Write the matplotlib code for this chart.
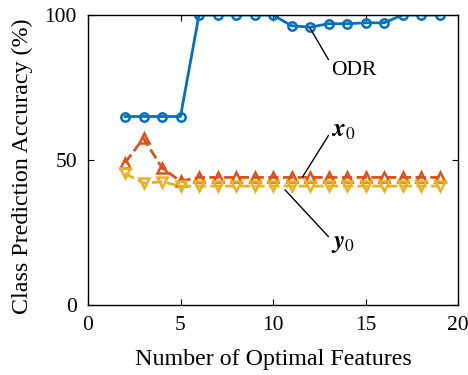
import matplotlib
matplotlib.use("Agg")
import matplotlib.pyplot as plt

# data
n_features = [2, 3, 4, 5, 6, 7, 8, 9, 10, 11, 12, 13, 14, 15, 16, 17, 18, 19]
odr = [65, 65, 65, 65, 100, 100, 100, 100, 100, 96.3, 95.8, 97, 97, 97.3, 97.3, 100, 100, 100]
x0_acc = [49, 57.5, 47.3, 42.7, 44, 44, 44, 44, 44, 44, 44, 44, 44, 44, 44, 44, 44, 44]
y0_acc = [45.4, 42, 42.5, 41, 41, 41, 41, 41, 41, 41, 41, 41, 41, 41, 41, 41, 41, 41]

plt.rcParams['font.family'] = ['Liberation Serif', 'DejaVu Serif']
plt.rcParams['mathtext.fontset'] = 'stix'

fig = plt.figure(figsize=(4.68, 3.75), dpi=100)
ax = fig.add_axes([88 / 468, 1 - 305 / 375, 370 / 468, 290 / 375])

ax.plot(n_features, odr, '-o', color='#0072BD', lw=2, ms=6, mew=1.8, mfc='none')
ax.plot(n_features, x0_acc, '--^', color='#D95319', lw=2, ms=7.5, mew=1.8, mfc='none')
ax.plot(n_features, y0_acc, '--v', color='#EDB120', lw=2, ms=7.5, mew=1.8, mfc='none')

ax.set_xlim(0, 20)
ax.set_ylim(0, 100)
ax.set_xticks([0, 5, 10, 15, 20])
ax.set_yticks([0, 50, 100])
ax.tick_params(direction='in', top=True, right=True, labelsize=15.5, length=4, pad=8)
for s in ax.spines.values():
    s.set_linewidth(1)

ax.set_xlabel('Number of Optimal Features', fontsize=17.3, labelpad=10)
ax.set_ylabel('Class Prediction Accuracy (%)', fontsize=17.3, va='center')
ax.yaxis.set_label_coords(-0.177, 0.48)

ax.annotate('ODR', xy=(12.0, 95.5), xytext=(13.15, 81), fontsize=15.5,
            va='center', ha='left',
            arrowprops=dict(arrowstyle='-', color='k', lw=1, shrinkA=0, shrinkB=0,
                            relpos=(0, 0.8)))
ax.annotate(r'$\mathbfit{x}_0$', xy=(11.6, 44.2), xytext=(13.15, 60), fontsize=18,
            va='center', ha='left',
            arrowprops=dict(arrowstyle='-', color='k', lw=1, shrinkA=0, shrinkB=0,
                            relpos=(0, 0.5)))
ax.annotate(r'$\mathbfit{y}_0$', xy=(10.65, 39.7), xytext=(13.15, 21), fontsize=18,
            va='center', ha='left',
            arrowprops=dict(arrowstyle='-', color='k', lw=1, shrinkA=0, shrinkB=0,
                            relpos=(0, 0.7)))

fig.savefig('out.png', dpi=100)
